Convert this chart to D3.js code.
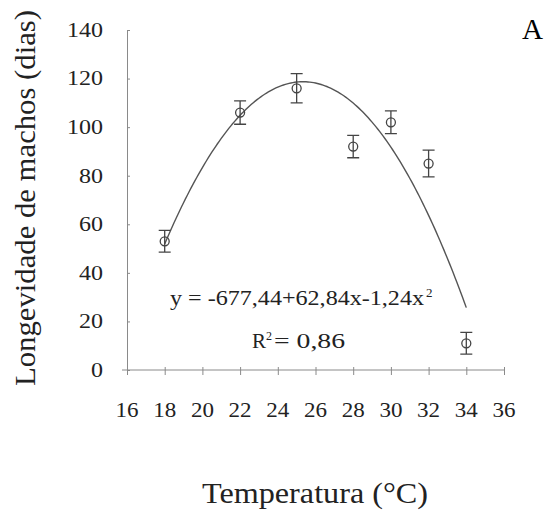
<!DOCTYPE html>
<html><head><meta charset="utf-8">
<script src="https://cdn.jsdelivr.net/npm/d3@7"></script>
<style>body{margin:0;background:#fff}svg{display:block}</style>
</head><body>
<svg id="c" width="547" height="517"></svg>
<script>
const temperatures = [18, 22, 25, 28, 30, 32, 34];
const longevity = [53, 106, 116, 92, 102, 85, 11];
const errors = [4.5, 4.8, 6, 4.6, 4.7, 5.5, 4.5];
const xTicks = [16, 18, 20, 22, 24, 26, 28, 30, 32, 34, 36];
const yTicks = [0, 20, 40, 60, 80, 100, 120, 140];
const fitCoef = [-677.44, 62.84, -1.24];
const fitRange = [18, 34];

const serif = "'Times New Roman', Times, 'Liberation Serif', Tinos, serif";
const svg = d3.select("#c").attr("font-family", serif);
const x = d3.scaleLinear().domain([16, 36]).range([127, 504]);
const y = d3.scaleLinear().domain([0, 140]).range([370, 30]);
const axisCol = "#8a8a8a", ink = "#222";

// y axis
const ya = svg.append("g").attr("transform", "translate(127,0)")
  .call(d3.axisLeft(y).tickValues(yTicks).tickSize(5).tickSizeOuter(0).tickPadding(0).tickFormat(""));
ya.select(".domain").attr("stroke", axisCol);
ya.selectAll(".tick line").attr("stroke", axisCol).attr("x2", 3);
// x axis
const xa = svg.append("g").attr("transform", "translate(0,370)")
  .call(d3.axisBottom(x).tickValues(xTicks).tickSize(5).tickSizeOuter(0).tickFormat(""));
xa.select(".domain").attr("stroke", axisCol).attr("d", `M${x(16)-5},0H${x(36)+1}`);
xa.selectAll(".tick line").attr("stroke", axisCol).attr("y1", -3);

// tick labels
svg.append("g").selectAll("text").data(yTicks).join("text")
  .attr("font-family", serif)
  .attr("x", 103).attr("y", d => y(d)).attr("dy", "0.34em")
  .attr("text-anchor", "end").attr("font-size", 20).attr("fill", ink)
  .attr("textLength", d => String(d).length * 12).attr("lengthAdjust", "spacingAndGlyphs")
  .text(d => d);
svg.append("g").selectAll("text").data(xTicks).join("text")
  .attr("font-family", serif)
  .attr("x", d => x(d)).attr("y", 417)
  .attr("text-anchor", "middle").attr("font-size", 21).attr("fill", ink)
  .attr("textLength", 23).attr("lengthAdjust", "spacingAndGlyphs")
  .text(d => d);

// fitted curve
const curvePts = d3.range(fitRange[0], fitRange[1] + 0.001, 0.1)
  .map(t => [t, fitCoef[0] + fitCoef[1] * t + fitCoef[2] * t * t]);
svg.append("path").datum(curvePts)
  .attr("d", d3.line().x(d => x(d[0])).y(d => y(d[1])))
  .attr("fill", "none").attr("stroke", "#555").attr("stroke-width", 1.4);

// error bars + markers
const pts = temperatures.map((t, i) => ({t, v: longevity[i], e: errors[i]}));
const g = svg.append("g").attr("stroke", "#444").attr("stroke-width", 1.3).attr("fill", "none");
g.selectAll(".eb").data(pts).join("path")
  .attr("d", d => `M${x(d.t)},${y(d.v + d.e)}V${y(d.v - d.e)}M${x(d.t)-6},${y(d.v + d.e)}h12M${x(d.t)-6},${y(d.v - d.e)}h12`);
g.selectAll("circle").data(pts).join("circle")
  .attr("cx", d => x(d.t)).attr("cy", d => y(d.v)).attr("r", 4.5).attr("fill", "none");

// axis titles
svg.append("text").attr("font-family", serif).attr("transform", "translate(35,198) rotate(-90)")
  .attr("text-anchor", "middle").attr("font-size", 29).attr("fill", ink)
  .attr("textLength", 376).attr("lengthAdjust", "spacingAndGlyphs")
  .text("Longevidade de machos (dias)");
svg.append("text").attr("font-family", serif).attr("x", 315).attr("y", 503)
  .attr("text-anchor", "middle").attr("font-size", 29).attr("fill", ink)
  .attr("textLength", 226).attr("lengthAdjust", "spacingAndGlyphs")
  .text("Temperatura (°C)");
svg.append("text").attr("font-family", serif).attr("x", 522).attr("y", 39)
  .attr("font-size", 30).attr("fill", "#000")
  .attr("textLength", 21).attr("lengthAdjust", "spacingAndGlyphs").text("A");

// equation
svg.append("text").attr("font-family", serif).attr("x", 170).attr("y", 305).attr("font-size", 21).attr("fill", ink)
  .attr("textLength", 254).attr("lengthAdjust", "spacingAndGlyphs")
  .text("y = -677,44+62,84x-1,24x");
svg.append("text").attr("font-family", serif).attr("x", 426).attr("y", 297).attr("font-size", 13).attr("fill", ink).text("2");
svg.append("text").attr("font-family", serif).attr("x", 252).attr("y", 348).attr("font-size", 21).attr("fill", ink).text("R");
svg.append("text").attr("font-family", serif).attr("x", 266).attr("y", 340).attr("font-size", 12).attr("fill", ink).text("2");
svg.append("text").attr("font-family", serif).attr("x", 274).attr("y", 348).attr("font-size", 21).attr("fill", ink)
  .attr("textLength", 71).attr("lengthAdjust", "spacingAndGlyphs").text("= 0,86");
</script>
</body></html>
